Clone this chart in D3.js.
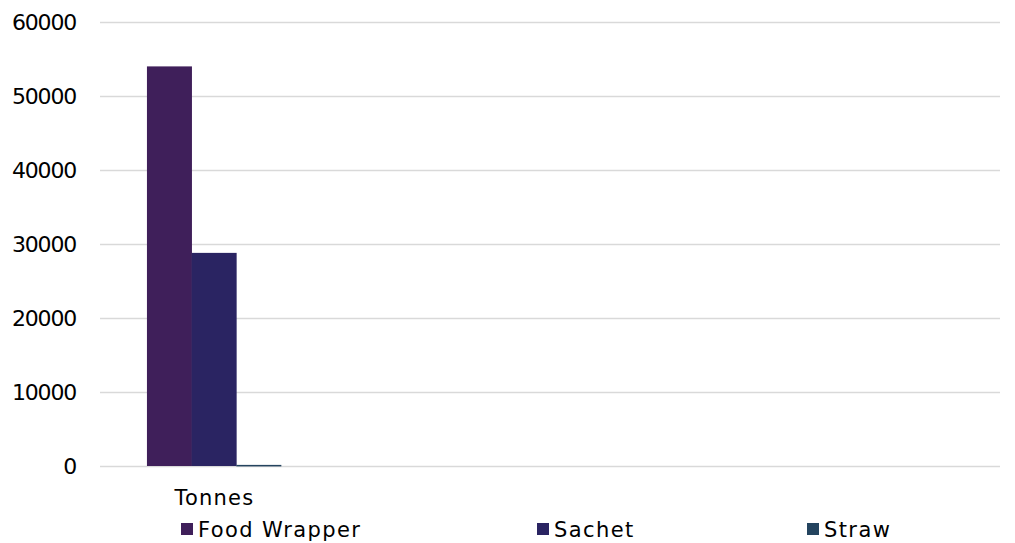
<!DOCTYPE html>
<html>
<head>
<meta charset="utf-8">
<script src="https://cdn.jsdelivr.net/npm/d3@7"></script>
<style>
  body { margin: 0; background: #fff; }
  text { font-family: "DejaVu Sans", sans-serif; fill: #000; }
</style>
</head>
<body>
<div id="container"></div>
<script>
// values
var categories = ["Tonnes", "", "", ""];
var seriesNames = ["Food Wrapper", "Sachet", "Straw"];
var foodWrapper = [54000, null, null, null];
var sachet = [28800, null, null, null];
var straw = [150, null, null, null];
var yTicks = [0, 10000, 20000, 30000, 40000, 50000, 60000];

var colors = ["#3f1f5a", "#2a2462", "#24445f"];
var allSeries = [foodWrapper, sachet, straw];

var width = 1015, height = 543;
var plotLeft = 100, plotRight = 1000, plotTop = 22, plotBottom = 466;

var svg = d3.select("#container").append("svg")
  .attr("width", width)
  .attr("height", height);

var xScale = d3.scaleBand().domain(d3.range(categories.length)).range([plotLeft, plotRight]);
var yScale = d3.scaleLinear().domain([0, 60000]).range([plotBottom, plotTop]);

// gridlines
svg.append("g")
  .selectAll("line")
  .data(yTicks)
  .enter()
  .append("line")
  .attr("x1", plotLeft)
  .attr("x2", plotRight)
  .attr("y1", (d) => Math.round(yScale(d)) + 0.5)
  .attr("y2", (d) => Math.round(yScale(d)) + 0.5)
  .attr("stroke", "#d9d9d9")
  .attr("stroke-width", 1.3);

// y axis labels
var yAxis = d3.axisLeft(yScale).tickValues(yTicks).tickSize(0).tickPadding(24).tickFormat(d3.format("d"));
var yG = svg.append("g").attr("transform", "translate(" + plotLeft + ",0)").call(yAxis);
yG.select(".domain").remove();
yG.selectAll("text")
  .style("font-size", "22px")
  .style("letter-spacing", "-1.2px")
  .style("font-family", "DejaVu Sans, sans-serif")
  .attr("fill", "#000");

// bars
var barW = 44.7;
var inner = d3.scaleBand().domain(d3.range(seriesNames.length))
  .range([0, barW * seriesNames.length]);

var groups = svg.append("g")
  .selectAll("g")
  .data(categories)
  .enter()
  .append("g")
  .attr("transform", (d, i) => "translate(" + (xScale(i) + (xScale.bandwidth() - inner.range()[1]) / 2 + 1.5) + ",0)");

groups.selectAll("rect")
  .data((d, i) => allSeries.map((s, j) => ({ s: j, v: s[i] })).filter((e) => e.v != null))
  .enter()
  .append("rect")
  .attr("x", (d) => inner(d.s))
  .attr("width", inner.bandwidth() + 0.3)
  .attr("y", (d) => yScale(d.v))
  .attr("height", (d) => Math.max(1.5, plotBottom - yScale(d.v)))
  .attr("fill", (d) => colors[d.s]);

// category labels
svg.append("g")
  .selectAll("text")
  .data(categories)
  .enter()
  .append("text")
  .attr("x", (d, i) => xScale(i) + xScale.bandwidth() / 2 + 2)
  .attr("y", 505)
  .attr("text-anchor", "middle")
  .style("font-size", "21px")
  .style("letter-spacing", "1.2px")
  .text((d) => d);

// legend
var legendX = [181, 537, 807];
var legend = svg.append("g")
  .selectAll("g")
  .data(seriesNames)
  .enter()
  .append("g")
  .attr("transform", (d, i) => "translate(" + legendX[i] + ",529)");

legend.append("rect")
  .attr("width", 12)
  .attr("height", 12)
  .attr("y", -6)
  .attr("fill", (d, i) => colors[i]);

legend.append("text")
  .attr("x", 17)
  .attr("y", 8)
  .style("font-size", "21px")
  .style("letter-spacing", "1.4px")
  .text((d) => d);
</script>
</body>
</html>
